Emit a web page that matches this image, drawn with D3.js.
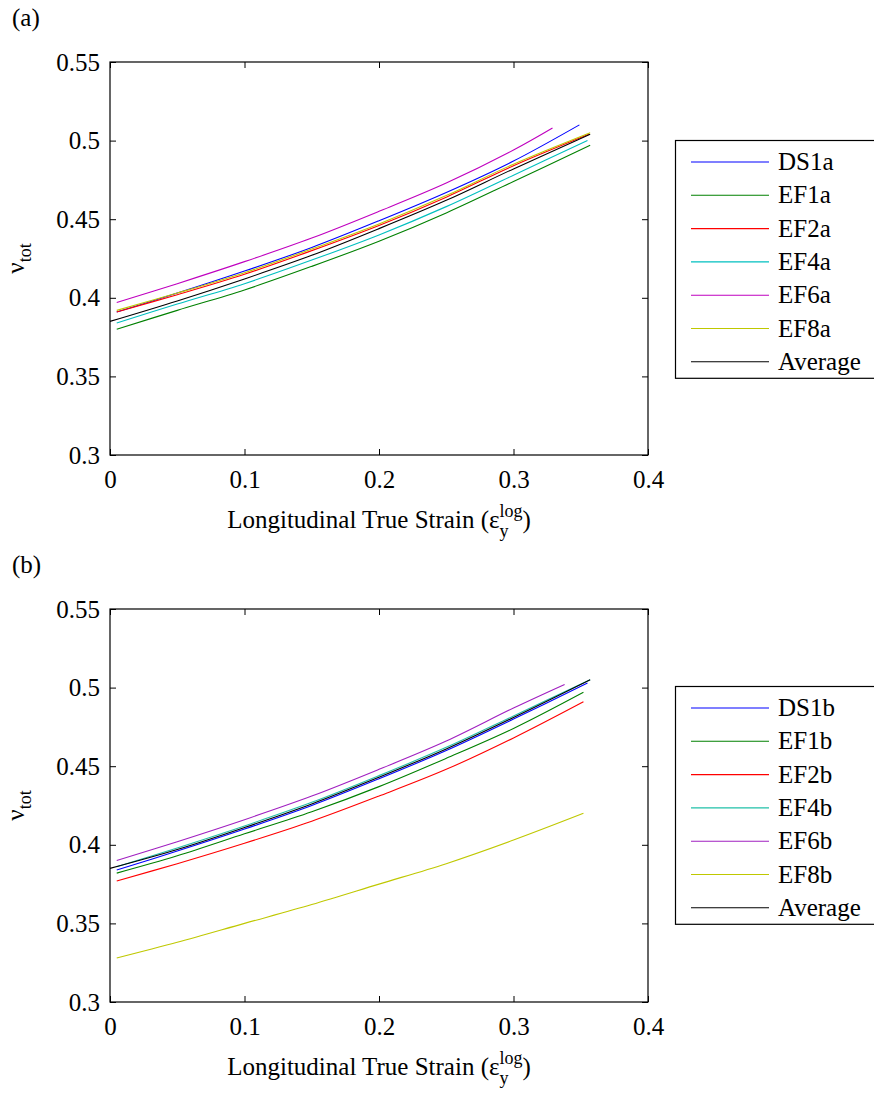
<!DOCTYPE html>
<html>
<head>
<meta charset="utf-8">
<script src="https://cdn.jsdelivr.net/npm/d3@7"></script>
<style>
  html, body { margin: 0; padding: 0; background: #fff; }
  svg { display: block; }
  svg text { font-family: "Times New Roman", "Liberation Serif", serif; fill: #000; }
</style>
</head>
<body>
<div id="chart"></div>
<script>
// shared axis ticks
const xTicks = [0, 0.1, 0.2, 0.3, 0.4];
const yTicks = [0.3, 0.35, 0.4, 0.45, 0.5, 0.55];

// strain sample points (start, then every 0.05), the last point of each curve is in the *End arrays
const strainPts = [0.005, 0.05, 0.1, 0.15, 0.2, 0.25, 0.3];
const avgStrainPts = [0, 0.05, 0.1, 0.15, 0.2, 0.25, 0.3];

// panel (a)
const namesA = ['DS1a', 'EF1a', 'EF2a', 'EF4a', 'EF6a', 'EF8a', 'Average'];
const DS1a = [0.391, 0.403, 0.417, 0.432, 0.449, 0.467, 0.487];
const EF1a = [0.380, 0.392, 0.405, 0.420, 0.436, 0.454, 0.474];
const EF2a = [0.391, 0.402, 0.415, 0.430, 0.446, 0.464, 0.484];
const EF4a = [0.384, 0.396, 0.409, 0.424, 0.440, 0.458, 0.478];
const EF6a = [0.397, 0.409, 0.423, 0.438, 0.455, 0.473, 0.494];
const EF8a = [0.392, 0.403, 0.416, 0.431, 0.447, 0.465, 0.485];
const AvgA = [0.385, 0.398, 0.412, 0.427, 0.444, 0.462, 0.482];
const endStrainA = [0.349, 0.357, 0.356, 0.355, 0.329, 0.357, 0.357];
const endNuA = [0.510, 0.497, 0.504, 0.500, 0.508, 0.505, 0.504];

// panel (b)
const namesB = ['DS1b', 'EF1b', 'EF2b', 'EF4b', 'EF6b', 'EF8b', 'Average'];
const DS1b = [0.384, 0.396, 0.410, 0.425, 0.442, 0.460, 0.480];
const EF1b = [0.382, 0.393, 0.407, 0.421, 0.437, 0.455, 0.474];
const EF2b = [0.377, 0.388, 0.401, 0.415, 0.431, 0.448, 0.468];
const EF4b = [0.386, 0.398, 0.412, 0.427, 0.444, 0.462, 0.482];
const EF6b = [0.390, 0.402, 0.416, 0.431, 0.448, 0.466, 0.487];
const EF8b = [0.328, 0.338, 0.350, 0.362, 0.375, 0.388, 0.403];
const AvgB = [0.385, 0.397, 0.411, 0.426, 0.443, 0.461, 0.481];
const endStrainB = [0.355, 0.352, 0.352, 0.357, 0.338, 0.352, 0.357];
const endNuB = [0.503, 0.497, 0.491, 0.505, 0.502, 0.420, 0.505];

const colorsA = ['#0000ff', '#008000', '#ff0000', '#00bfbf', '#bf00bf', '#bfc800', '#000000'];
const colorsB = ['#0000ff', '#008000', '#ff0000', '#20c0a8', '#a020c0', '#bfc800', '#000000'];

const W = 874, H = 1095;
const FS = 25;

const svg = d3.select('#chart').append('svg')
  .attr('width', W)
  .attr('height', H);

function buildSeries(names, values, endX, endY) {
  return names.map((name, i) => {
    const xs = name === 'Average' ? avgStrainPts : strainPts;
    const pts = values[i].map((v, j) => ({ x: xs[j], y: v }));
    pts.push({ x: endX[i], y: endY[i] });
    return { name, pts };
  });
}

function drawPanel(opt) {
  const g = svg.append('g')
    .attr('transform', `translate(${opt.left}, ${opt.top})`);
  const w = opt.width, h = opt.height;

  const x = d3.scaleLinear().domain([0, 0.4]).range([0, w]);
  const y = d3.scaleLinear().domain([0.3, 0.55]).range([h, 0]);

  // panel tag
  svg.append('text')
    .attr('x', 12)
    .attr('y', opt.top - 36)
    .attr('font-size', FS)
    .text(opt.tag);

  // curves
  const line = d3.line()
    .x((d) => x(d.x))
    .y((d) => y(d.y))
    .curve(d3.curveCatmullRom.alpha(0.5));

  opt.series.forEach((s, i) => {
    g.append('path')
      .datum(s.pts)
      .attr('fill', 'none')
      .attr('stroke', opt.colors[i])
      .attr('stroke-width', 1.1)
      .attr('d', line);
  });

  // axes with inward ticks on all four sides
  const tick = 6;
  g.append('g')
    .attr('transform', `translate(0, ${h})`)
    .call(d3.axisBottom(x).tickValues(xTicks).tickSizeInner(-tick).tickSizeOuter(0).tickPadding(15).tickFormat(d3.format('')))
    .call((a) => a.select('.domain').remove());
  g.append('g')
    .call(d3.axisTop(x).tickValues(xTicks).tickSizeInner(-tick).tickSizeOuter(0).tickFormat(''))
    .call((a) => a.select('.domain').remove());
  g.append('g')
    .call(d3.axisLeft(y).tickValues(yTicks).tickSizeInner(-tick).tickSizeOuter(0).tickPadding(10).tickFormat(d3.format('')))
    .call((a) => a.select('.domain').remove());
  g.append('g')
    .attr('transform', `translate(${w}, 0)`)
    .call(d3.axisRight(y).tickValues(yTicks).tickSizeInner(-tick).tickSizeOuter(0).tickFormat(''))
    .call((a) => a.select('.domain').remove());

  g.selectAll('.tick line').attr('stroke', '#000');
  g.selectAll('.tick text')
    .attr('font-size', FS)
    .attr('fill', '#000');

  g.append('rect')
    .attr('width', w)
    .attr('height', h)
    .attr('fill', 'none')
    .attr('stroke', '#000')
    .attr('stroke-width', 1.2);

  // x label
  const xl = g.append('text')
    .attr('x', w / 2)
    .attr('y', h + 73)
    .attr('text-anchor', 'middle')
    .attr('font-size', FS);
  xl.append('tspan').text('Longitudinal True Strain (ε');
  xl.append('tspan').attr('font-size', 18).attr('dy', 9).text('y');
  xl.append('tspan').attr('font-size', 18).attr('dx', -9).attr('dy', -20).text('log');
  xl.append('tspan').attr('dy', 11).text(')');

  // y label
  const yl = g.append('text')
    .attr('transform', `translate(-86, ${h / 2}) rotate(-90)`)
    .attr('text-anchor', 'middle')
    .attr('font-size', FS);
  yl.append('tspan').text('ν');
  yl.append('tspan').attr('font-size', 18).attr('dy', 7).text('tot');

  // legend
  const lg = svg.append('g')
    .attr('transform', `translate(${opt.legendX}, ${opt.legendY})`);
  const rowH = 33.3;
  lg.append('rect')
    .attr('x', 0.5)
    .attr('y', 0.5)
    .attr('width', 210)
    .attr('height', rowH * (opt.series.length - 1) + 38)
    .attr('fill', '#fff')
    .attr('stroke', '#000')
    .attr('stroke-width', 1.2);
  opt.series.forEach((s, i) => {
    const cy = 22 + i * rowH;
    lg.append('line')
      .attr('x1', 16).attr('x2', 94)
      .attr('y1', cy).attr('y2', cy)
      .attr('stroke', opt.colors[i])
      .attr('stroke-width', 1.1);
    lg.append('text')
      .attr('x', 103)
      .attr('y', cy + 8)
      .attr('font-size', FS)
      .text(s.name);
  });
}

drawPanel({
  tag: '(a)',
  left: 110, top: 62, width: 538, height: 393,
  series: buildSeries(namesA, [DS1a, EF1a, EF2a, EF4a, EF6a, EF8a, AvgA], endStrainA, endNuA),
  colors: colorsA,
  legendX: 675, legendY: 140,
});

drawPanel({
  tag: '(b)',
  left: 110, top: 609, width: 538, height: 393,
  series: buildSeries(namesB, [DS1b, EF1b, EF2b, EF4b, EF6b, EF8b, AvgB], endStrainB, endNuB),
  colors: colorsB,
  legendX: 675, legendY: 686,
});
</script>
</body>
</html>
